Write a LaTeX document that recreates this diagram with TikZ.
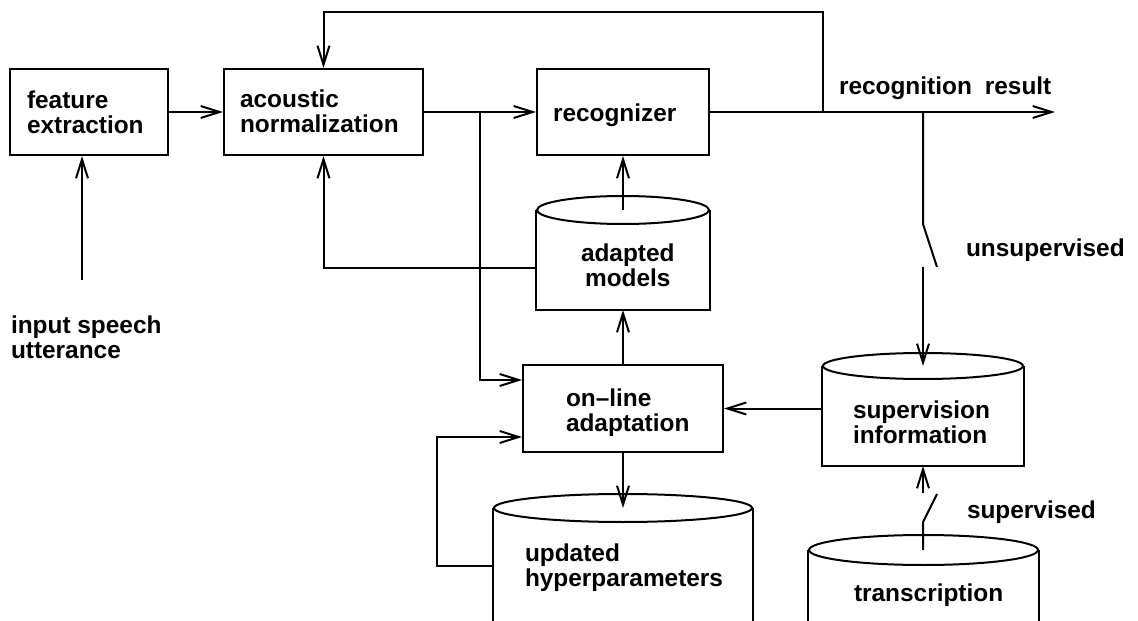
\documentclass[tikz,border=0pt]{standalone}
\usepackage{fontspec}
\setmainfont{Liberation Sans}
\usetikzlibrary{arrows.meta}
\begin{document}
\begin{tikzpicture}[x=1bp,y=-1bp,
  line width=2bp,
  arr/.style={-{Straight Barb[length=19bp,width=12bp]}},
  blk/.style={draw,rectangle,inner sep=0pt},
  cyl/.style={rectangle,inner sep=0pt,draw=none},
  txt/.style={font=\bfseries\fontsize{24.5}{24.5}\selectfont,inner sep=0pt,align=left,anchor=north west}]
\useasboundingbox (0,0) rectangle (1138,621);
\clip (0,0) rectangle (1138,621);
% boxes
\node[blk,minimum width=158bp,minimum height=86bp] (fe) at (89,112) {};
\node[blk,minimum width=199bp,minimum height=86bp] (an) at (323.5,112) {};
\node[blk,minimum width=172bp,minimum height=86bp] (rec) at (623,112) {};
\node[blk,minimum width=200bp,minimum height=87bp] (ola) at (623,408.5) {};
% cylinders
\node[cyl,minimum width=172bp,minimum height=98bp] (am) at (623,260) {};
\node[cyl,minimum width=200bp,minimum height=98bp] (sup) at (923,416) {};
\node[cyl,minimum width=258bp,minimum height=131bp] (upd) at (623,574.5) {};
\node[cyl,minimum width=229bp,minimum height=110bp] (trn) at (923.5,606) {};
\draw (am.north west) -- (am.south west) -- (am.south east) -- (am.north east);
\draw (am.north) ellipse [x radius=86bp,y radius=14bp];
\draw (sup.north west) -- (sup.south west) -- (sup.south east) -- (sup.north east);
\draw (sup.north) ellipse [x radius=100bp,y radius=13bp];
\draw (upd.north west) -- (upd.south west) -- (upd.south east) -- (upd.north east);
\draw (upd.north) ellipse [x radius=129bp,y radius=14bp];
\draw (trn.north west) -- (trn.south west) -- (trn.south east) -- (trn.north east);
\draw (trn.north) ellipse [x radius=114.5bp,y radius=15bp];
% texts
\node[txt] (tfe) at (26,90) {feature\\extraction};
\node[txt] (tan) at (239,89) {acoustic\\normalization};
\node[txt] (trec) at (552,103) {recognizer};
\node[txt,align=center] (tam) at (580,243) {adapted\\models};
\node[txt] (tola) at (565,388) {on–line\\adaptation};
\node[txt] (tupd) at (524,543) {updated\\hyperparameters};
\node[txt] (tsup) at (852,400) {supervision\\information};
\node[txt] (ttrn) at (853,583) {transcription};
\node[txt] (tin) at (10,315) {input speech\\utterance};
\node[txt] (tres) at (838,76) {recognition\hspace{13bp}result};
\node[txt] (tuns) at (965,238) {unsupervised};
\node[txt] (tsv) at (966,500) {supervised};
% coordinates
\coordinate (in) at (82,280);
\coordinate (b1) at (480,112);
\coordinate (out) at (1055,112);
\coordinate (fb) at (823,112);
\coordinate (fbtop) at (823,12);
\coordinate (s1a) at (923,112);
\coordinate (s1b) at (923,224);
\coordinate (s1c) at (937,267);
\coordinate (s1d) at (923,267);
\coordinate (s2a) at (923,522);
\coordinate (s2b) at (937,494);
\coordinate (s2c) at (923,493);
\coordinate (ufb) at (437,566);
% connectors
\draw[arr] (in) -- (in |- fe.south);
\draw[arr] (fe.east) -- (an.west);
\draw[arr] (an.east) -- (rec.west);
\draw[arr] (rec.east) -- (out);
\draw[arr] (fb) -- (fbtop) -| (an.north);
\draw[arr] (b1) |- ([yshift=28.5bp]ola.west);
\draw[arr] (am.north) -- (rec.south);
\draw[arr] ([yshift=-8bp]am.west) -| (an.south);
\draw[arr] (ola.north) -- (am.south);
\draw[arr] (ola.south) -- (upd.north);
\draw[arr] (upd.west |- ufb) -- (ufb) |- ([yshift=-28.5bp]ola.west);
\draw[arr] (sup.west |- ola.east) -- (ola.east);
\draw (s1a) -- (s1b) -- (s1c);
\draw[arr] (s1d) -- (sup.north);
\draw (trn.north -| s2a) -- (s2a) -- (s2b);
\draw[arr] (s2c) -- (sup.south -| s2c);
\end{tikzpicture}
\end{document}
